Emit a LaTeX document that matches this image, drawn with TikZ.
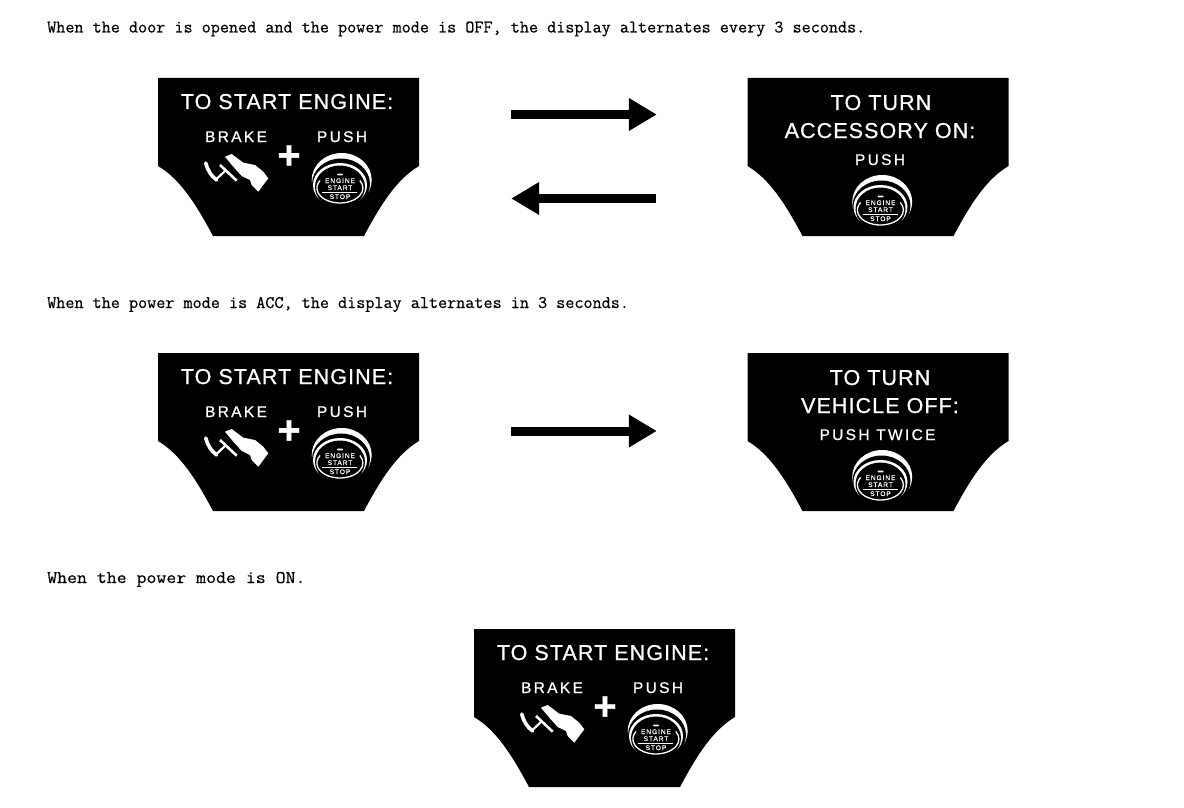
\documentclass[tikz,border=0pt]{standalone}
\usepackage{fontspec}
\usetikzlibrary{arrows.meta,calc,positioning}
\setmonofont[FakeBold=0.5]{Latin Modern Mono}
\newfontfamily\widemono[FakeBold=0.5,FakeStretch=1.093]{Latin Modern Mono}
\newfontfamily\panelfont[LetterSpace=5,FakeBold=0.8]{Liberation Sans}
\newfontfamily\widefont[LetterSpace=15,FakeBold=0.8]{Liberation Sans}
\newfontfamily\platefont[LetterSpace=14,FakeBold=0.6]{Liberation Sans}
\tikzset{
  notetext/.style={font=\ttfamily\fontsize{17.65}{20}\selectfont, text=black, anchor=base west, inner sep=0pt},
  widenote/.style={notetext, font=\widemono\fontsize{17.65}{20}\selectfont},
  paneltitle/.style={font=\panelfont\fontsize{21.5}{24}\selectfont, text=white, anchor=base, inner sep=0pt},
  panellabel/.style={font=\widefont\fontsize{15.5}{18}\selectfont, text=white, anchor=base, inner sep=0pt},
  platetext/.style={font=\platefont\fontsize{6.6}{8}\selectfont, text=white, anchor=base, inner sep=0pt},
  plussign/.style={font=\panelfont\bfseries\fontsize{40}{40}\selectfont, text=white, inner sep=0pt},
  panelframe/.style={minimum width=261pt, minimum height=158pt, inner sep=0pt},
  flowarrow/.style={-{Triangle[length=28pt,width=31pt]}, draw=black, line width=9pt},
  pics/panelbody/.style={code={
    \fill[black] (0,0) -- (261,0) -- (261,88) .. controls (239,101) and (223,126) .. (206,158)
      -- (55,158) .. controls (38,126) and (22,101) .. (0,88) -- cycle;
    \node[panelframe] (-frame) at (130.5,79) {};
  }},
  pics/startbutton/.style={code={
    \fill[white] (1.7,-8) ellipse [x radius=30, y radius=27];
    \fill[black] (1,-4) ellipse [x radius=29, y radius=25.5];
    \fill[white] (0,-3) ellipse [x radius=27, y radius=22];
    \fill[black] (0,-1) ellipse [x radius=25, y radius=21.5];
    \draw[white, line width=1.3pt] (-20,-7.5) arc [start angle=210, end angle=-30, x radius=23, y radius=15];
    \fill[white, rounded corners=.8pt] (-3,-14.5) rectangle (3,-12.7);
    \node[platetext] (-engine) at (0,-5) {ENGINE};
    \node[platetext] (-start) at (0,2) {START};
    \draw[white, line width=1pt] (-18,4.7) -- (17,4.7);
    \node[platetext] (-stop) at (0,11) {STOP};
  }},
  pics/brakefoot/.style={code={
    \fill[white] (67,78.7) -- (73.7,76) -- (85.3,84.7) -- (97,87) -- (105.3,93.7) -- (110.3,100.3)
      -- (100.3,113.7) -- (93.7,107) -- (92,102) -- (83.7,98) -- (75.3,88.7) -- cycle;
    \draw[white, line width=3.6pt, line cap=round] (47.7,85) .. controls (49.5,92) and (53,98) .. (58.7,102);
    \draw[white, line width=2.2pt] (57.5,102) -- (68,92);
    \draw[white, line width=2.6pt] (62,87) -- (78.7,102.7);
  }},
  pics/startpanel/.style={code={
    \pic {panelbody};
    \node[paneltitle] (-title) at (129,31) {TO START ENGINE:};
    \node[panellabel] (-brake) at (78,64) {BRAKE};
    \node[panellabel] (-push) at (184,64) {PUSH};
    \node[plussign] (-plus) at (131,79) {+};
    \pic {brakefoot};
    \pic (-button) at (182,110) {startbutton};
  }}
}
\begin{document}
\begin{tikzpicture}[x=1pt,y=-1pt]
  \useasboundingbox (0,0) rectangle (1184,808);
  % first row, door opened
  \node[notetext] (noteoff) at (47,32.5) {When the door is opened and the power mode is OFF, the display alternates every 3 seconds.};
  \pic (startoff) at (158,78) {startpanel};
  \pic (accpanel) at (747.5,78) {panelbody};
  \node[paneltitle] (acctitle) at (881,110) {TO TURN};
  \node[paneltitle] (accon) at (880,138) {ACCESSORY ON:};
  \node[panellabel] (accpush) at (880,165) {PUSH};
  \pic (accbutton) at (880.5,210) {startbutton};
  \draw[flowarrow, shorten <=92pt, shorten >=90.5pt] ([yshift=42.5pt]startoff-frame.east) -- ([yshift=42.5pt]accpanel-frame.west);
  \draw[flowarrow, shorten <=91pt, shorten >=92pt] ([yshift=-41.5pt]accpanel-frame.west) -- ([yshift=-41.5pt]startoff-frame.east);

  % second row, ACC
  \node[notetext] (noteacc) at (47,308) {When the power mode is ACC, the display alternates in 3 seconds.};
  \pic (startacc) at (158,353) {startpanel};
  \pic (offpanel) at (747.5,353) {panelbody};
  \node[paneltitle] (offtitle) at (880,385) {TO TURN};
  \node[paneltitle] (offoff) at (880,413) {VEHICLE OFF:};
  \node[panellabel] (offpush) at (877.5,440) {PUSH TWICE};
  \pic (offbutton) at (880.5,485) {startbutton};
  \draw[flowarrow, shorten <=92pt, shorten >=90.5pt] ([yshift=1pt]startacc-frame.east) -- ([yshift=1pt]offpanel-frame.west);

  % last row, ON
  \node[widenote] (noteon) at (47,583) {When the power mode is ON.};
  \pic (starton) at (474,629) {startpanel};
\end{tikzpicture}
\end{document}
